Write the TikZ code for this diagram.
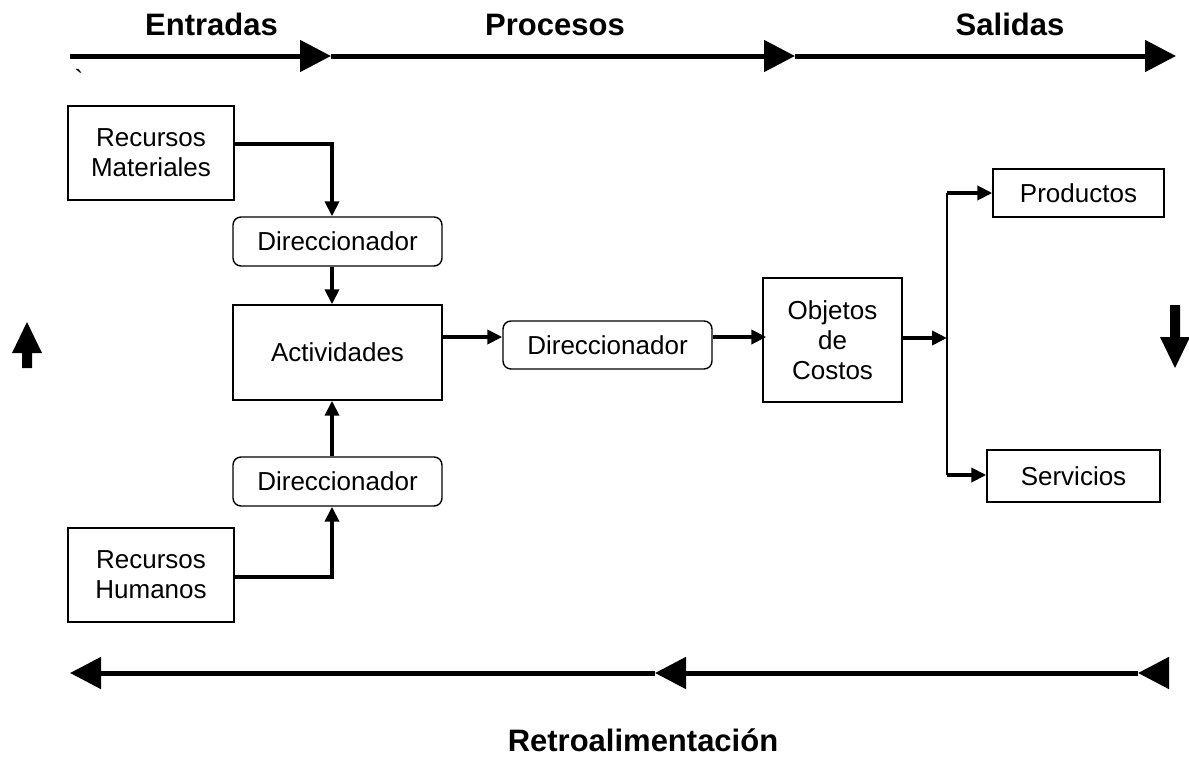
\documentclass[tikz,border=0pt]{standalone}
\usepackage{fontspec}
\setmainfont{Liberation Sans}
\usetikzlibrary{arrows.meta}
\begin{document}
\begin{tikzpicture}[x=1pt,y=-1pt,
  txt/.style={font=\fontsize{26}{30}\selectfont, align=center, inner sep=0pt},
  ttl/.style={font=\fontsize{31}{36}\bfseries\selectfont, inner sep=0pt, anchor=base},
  box/.style={txt, draw, line width=1.4pt},
  rbox/.style={box, rounded corners=8pt},
  conn/.style={line width=4pt, -{Triangle[length=15pt,width=14pt]}},
  bigline/.style={line width=5pt, -{Triangle[length=31pt,width=31pt]}},
  thin/.style={line width=2pt},
  fat/.style={fill=black, draw=none}]
\useasboundingbox (0,0) rectangle (1189,758);

% titles
\node[ttl] (tin) at (211.5,35) {Entradas};
\node[ttl] (tpr) at (555,35) {Procesos};
\node[ttl] (tout) at (1010,35) {Salidas};
\node[ttl] (tfb) at (643,751) {Retroalimentación};
\node[txt, anchor=base] (tick) at (79,88) {\textasciigrave};

% top arrows
\coordinate (t0) at (70,56);
\coordinate (t1) at (331,56);
\coordinate (t2) at (795,56);
\coordinate (t3) at (1176,56);
\draw[bigline] (t0) -- (t1);
\draw[bigline] (t1) -- (t2);
\draw[bigline] (t2) -- (t3);

% bottom arrows
\coordinate (b0) at (1165,673);
\coordinate (b1) at (1138,673);
\coordinate (b2) at (655,673);
\coordinate (b3) at (70,673);
\draw[bigline] (b0) -- (b1);
\draw[bigline] (b1) -- (b2);
\draw[bigline] (b2) -- (b3);

% side block arrows
\fill[fat] (22,368) -- (22,353) -- (12,353) -- (27,322) -- (42,353) -- (32,353) -- (32,368) -- cycle;
\fill[fat] (1170,305) -- (1180,305) -- (1180,337) -- (1190,337) -- (1175,368) -- (1160,337) -- (1170,337) -- cycle;

% boxes
\node[box, minimum width=166pt, minimum height=94pt] (rm) at (151,153) {Recursos\\Materiales};
\node[rbox, minimum width=209pt, minimum height=49pt] (d1) at (337.5,241.5) {Direccionador};
\node[box, minimum width=209pt, minimum height=95pt] (act) at (337.5,352.5) {Actividades};
\node[rbox, minimum width=209pt, minimum height=49pt] (d2) at (337.5,481.5) {Direccionador};
\node[box, minimum width=166pt, minimum height=94pt] (rh) at (151,575) {Recursos\\Humanos};
\node[rbox, minimum width=209pt, minimum height=48pt] (d3) at (607.5,345) {Direccionador};
\node[box, minimum width=139pt, minimum height=124pt] (obj) at (832.5,340) {Objetos\\de\\Costos};
\node[box, minimum width=171pt, minimum height=48pt] (prod) at (1078.5,193) {Productos};
\node[box, minimum width=173pt, minimum height=52pt] (serv) at (1073.5,476) {Servicios};

% connectors
\coordinate (c1) at ([yshift=9pt]rm.east);
\coordinate (c1b) at ([xshift=-5.5pt]d1.north);
\draw[conn] (c1) -| (c1b);
\draw[conn] ([xshift=-5.5pt]d1.south) -- ([xshift=-5.5pt]act.north);
\draw[conn] ([xshift=-5.5pt]d2.north) -- ([xshift=-5.5pt]act.south);
\coordinate (c2) at ([yshift=-2pt]rh.east);
\coordinate (c2b) at ([xshift=-5.5pt]d2.south);
\draw[conn] (c2) -| (c2b);
\coordinate (c3) at ([yshift=15.5pt]act.east);
\draw[conn] (c3) -- (c3 -| d3.west);
\coordinate (c4) at ([yshift=8pt]d3.east);
\draw[conn] (c4) -- ([xshift=4pt]c4 -| obj.west);
\coordinate (c5) at ([yshift=2pt]obj.east);
\coordinate (j) at (947,338);
\coordinate (jt) at (947,193);
\coordinate (jb) at (947,475);
\draw[conn] (c5) -- (j);
\draw[thin] (jt) -- (jb);
\draw[conn] (jt) -- (prod.west);
\draw[conn] (jb) -- (jb -| serv.west);
\end{tikzpicture}
\end{document}
